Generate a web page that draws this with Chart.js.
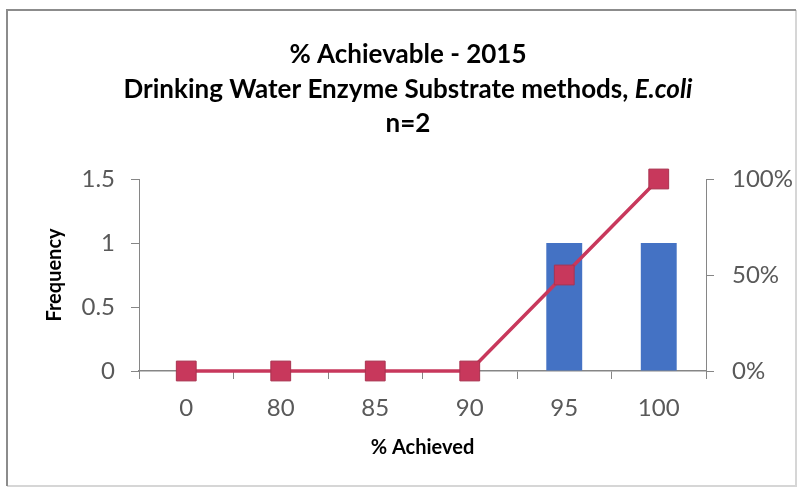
<!DOCTYPE html>
<html>
<head>
<meta charset="utf-8">
<script src="https://cdn.jsdelivr.net/npm/chart.js@4/dist/chart.umd.min.js"></script>
<style>
  html, body { margin: 0; padding: 0; background: #fff; }
  #wrap { position: relative; width: 801px; height: 492px; }
</style>
</head>
<body>
<div id="wrap"><canvas id="c" width="801" height="492"></canvas></div>
<script>
// data
const categories = ['0', '80', '85', '90', '95', '100'];
const frequency = [0, 0, 0, 0, 1, 1];
const cumulative = [0, 0, 0, 0, 0.5, 1];   // right axis, fraction
const freqTicks = [0, 0.5, 1, 1.5];
const pctTicks = [0, 0.5, 1];

const TITLE_LINES = [
  [{ t: '% Achievable - 2015' }],
  [{ t: 'Drinking Water Enzyme Substrate methods, ' }, { t: 'E.coli', italic: true }],
  [{ t: 'n=2' }],
];
const FONT = 'Lato, "Open Sans", sans-serif';
const GRAY = '#595959';

// frame + multi-part title (Chart.js title can't mix italic)
const framePlugin = {
  id: 'frame',
  beforeDraw: (chart) => {
    const { ctx } = chart;
    ctx.save();
    ctx.strokeStyle = '#d6d6d6';
    ctx.lineWidth = 2;
    ctx.beginPath();
    ctx.moveTo(796, 10); ctx.lineTo(796, 486); ctx.lineTo(7, 486);
    ctx.stroke();
    ctx.strokeStyle = '#8c8c8c';
    ctx.beginPath();
    ctx.moveTo(7, 486); ctx.lineTo(7, 10); ctx.lineTo(796, 10);
    ctx.stroke();
    ctx.restore();
  },
  afterDraw: (chart) => {
    const { ctx } = chart;
    ctx.save();
    ctx.fillStyle = '#000';
    ctx.textBaseline = 'middle';
    const ys = [55, 90, 124];
    TITLE_LINES.forEach((parts, i) => {
      const fontOf = (p) => `${p.italic ? 'italic ' : ''}bold 26px ${FONT}`;
      let w = 0;
      parts.forEach((p) => { ctx.font = fontOf(p); w += ctx.measureText(p.t).width; });
      let x = 408 - w / 2;
      parts.forEach((p) => {
        ctx.font = fontOf(p);
        ctx.textAlign = 'left';
        ctx.fillText(p.t, x, ys[i]);
        x += ctx.measureText(p.t).width;
      });
    });
    ctx.restore();
  },
};

new Chart(document.getElementById('c'), {
  type: 'bar',
  data: {
    labels: categories,
    datasets: [
      {
        type: 'line',
        label: 'Cumulative %',
        data: cumulative,
        yAxisID: 'y1',
        borderColor: '#C8385C',
        borderWidth: 3.5,
        pointStyle: 'rect',
        pointRadius: 14,
        pointBackgroundColor: '#C8385C',
        pointBorderColor: '#A93350',
        pointBorderWidth: 1,
        tension: 0,
        clip: false,
        order: 0,
      },
      {
        label: 'Frequency',
        data: frequency,
        yAxisID: 'y',
        backgroundColor: '#4472C4',
        categoryPercentage: 1,
        barPercentage: 0.38,
        order: 1,
      },
    ],
  },
  plugins: [framePlugin],
  options: {
    responsive: false,
    animation: false,
    layout: { padding: { top: 179, left: 0, right: 0, bottom: 0 } },
    plugins: { legend: { display: false }, tooltip: { enabled: false }, title: { display: false } },
    scales: {
      x: {
        offset: true,
        grid: { display: true, offset: true, drawOnChartArea: false, tickLength: 8, color: '#868686', lineWidth: 1 },
        border: { display: true, color: '#868686', width: 1.5 },
        ticks: { color: GRAY, font: { family: FONT, size: 24 }, padding: 15, maxRotation: 0 },
        title: { display: true, text: '% Achieved', color: '#000', font: { family: FONT, size: 20, weight: 'bold' }, padding: { top: 0, bottom: 32 } },
        afterFit: (s) => { s.height = 121; },
      },
      y: {
        position: 'left',
        min: 0, max: 1.5,
        afterBuildTicks: (s) => { s.ticks = freqTicks.map((v) => ({ value: v })); },
        grid: { display: true, drawOnChartArea: false, tickLength: 8, color: '#868686' },
        border: { display: true, color: '#868686' },
        ticks: { color: GRAY, font: { family: FONT, size: 24 }, padding: 16, callback: (v) => `${v}` },
        title: { display: true, text: 'Frequency', color: '#000', font: { family: FONT, size: 20, weight: 'bold' }, padding: { top: 43, bottom: 0 } },
        afterFit: (s) => { s.width = 139; },
      },
      y1: {
        position: 'right',
        min: 0, max: 1,
        afterBuildTicks: (s) => { s.ticks = pctTicks.map((v) => ({ value: v })); },
        grid: { display: true, drawOnChartArea: false, tickLength: 8, color: '#868686' },
        border: { display: true, color: '#868686' },
        ticks: { color: GRAY, font: { family: FONT, size: 24 }, padding: 18, callback: (v) => `${Math.round(v * 100)}%` },
        afterFit: (s) => { s.width = 95; },
      },
    },
  },
});
</script>
</body>
</html>
